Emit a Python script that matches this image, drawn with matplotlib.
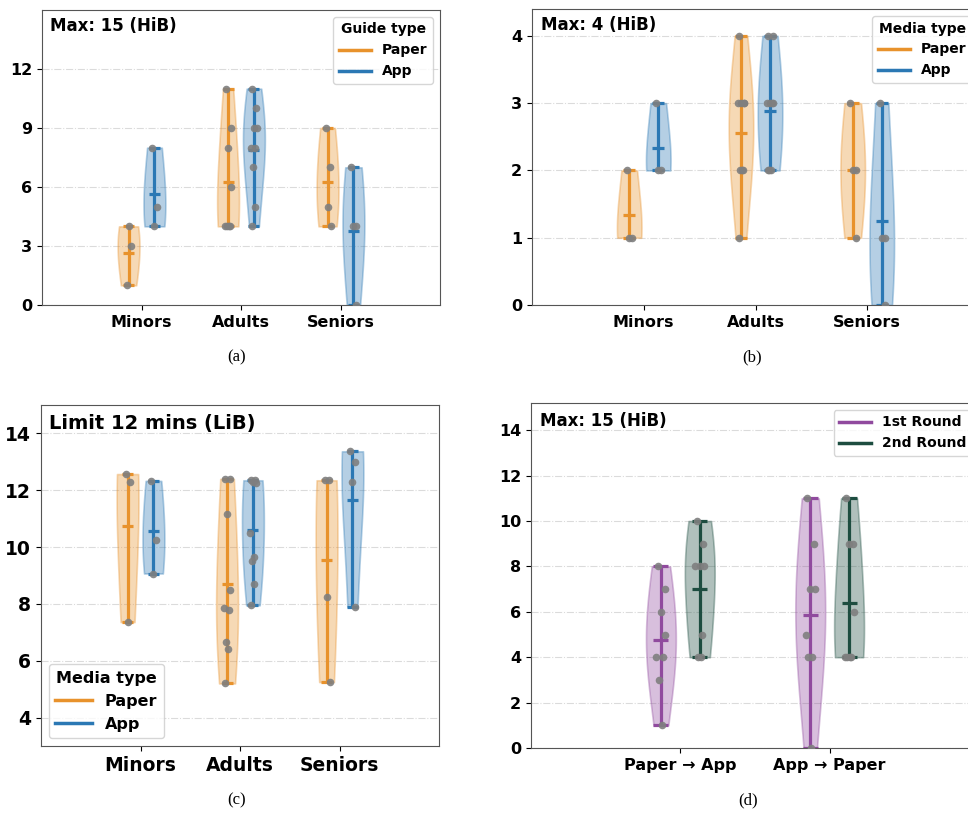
import numpy as np
import matplotlib
matplotlib.use("Agg")
import matplotlib.pyplot as plt
from matplotlib.lines import Line2D

groups = ["Minors", "Adults", "Seniors"]
rounds = ["Paper → App", "App → Paper"]

# (a) guide type, max 15
a_paper = [[1, 3, 4], [11, 9, 8, 6, 4, 4, 4, 4], [9, 7, 5, 4]]
a_app = [[8, 5, 4], [11, 10, 9, 9, 8, 8, 7, 5, 4], [7, 4, 4, 0]]

# (b) media type, max 4
b_paper = [[2, 1, 1], [4, 3, 3, 3, 3, 2, 2, 2, 1], [3, 2, 2, 1]]
b_app = [[3, 2, 2], [4, 4, 3, 3, 3, 3, 2, 2, 2], [3, 1, 1, 0]]

# (c) time in minutes, limit 12
c_paper = [[12.57, 12.3, 7.36],
           [12.4, 12.4, 11.15, 8.5, 7.85, 7.8, 6.65, 6.4, 5.2],
           [12.35, 12.35, 8.25, 5.25]]
c_app = [[12.33, 10.25, 9.07],
         [12.35, 12.35, 12.3, 12.25, 10.5, 9.65, 9.5, 8.7, 7.95],
         [13.37, 13.0, 12.3, 7.9]]

# (d) rounds, max 15
d_first = [[8, 7, 6, 5, 4, 4, 3, 1], [11, 9, 7, 7, 5, 4, 4, 0]]
d_second = [[10, 9, 8, 8, 8, 5, 4, 4], [11, 9, 9, 6, 4, 4, 4, 4]]

ORANGE = "#e8922c"
BLUE = "#2b78b4"
PURPLE = "#904a9e"
GREEN = "#1d4d40"

JITTER = [-0.02, 0.025, 0.0, 0.03, -0.03, 0.015, -0.012, 0.008, -0.022]

W, H = 968, 816
fig = plt.figure(figsize=(W / 100, H / 100), dpi=100)


def px_axes(left, right, top, bottom):
    return fig.add_axes([left / W, 1 - bottom / H, (right - left) / W, (bottom - top) / H])


def violins(ax, data, xs, color, width):
    parts = ax.violinplot(data, positions=xs, widths=width, bw_method=1.0,
                          showmeans=True, showextrema=True)
    for body in parts["bodies"]:
        body.set_facecolor(color)
        body.set_edgecolor(color)
        body.set_alpha(0.35)
        body.set_linewidth(1.2)
    for key in ("cmeans", "cmins", "cmaxes", "cbars"):
        parts[key].set_color(color)
        parts[key].set_linewidth(2.3)
    for x, vals in zip(xs, data):
        jx = [x + JITTER[i % len(JITTER)] for i in range(len(vals))]
        ax.scatter(jx, vals, s=30, color="#7f7f7f", alpha=0.9, zorder=3, linewidths=0)


def style(ax, labels, ylim, yticks, title, fs=11.5, tfs=12, yfs=11.5):
    ax.set_xticks(range(len(labels)))
    ax.set_xticklabels(labels, fontsize=fs, fontweight="bold")
    ax.set_xlim(-1, len(labels))
    ax.set_ylim(*ylim)
    ax.set_yticks(yticks)
    for t in ax.get_yticklabels():
        t.set_fontsize(yfs)
        t.set_fontweight("bold")
    ax.yaxis.grid(True, linestyle="-.", color="lightgray", alpha=0.8)
    ax.set_axisbelow(True)
    for s in ax.spines.values():
        s.set_color("#555555")
    ax.text(0.02, 0.975, title, transform=ax.transAxes, va="top", ha="left",
            fontsize=tfs, fontweight="bold")


def legend(ax, labels, colors, title=None, loc="upper right", fs=10):
    handles = [Line2D([0], [0], color=c, lw=2.5) for c in colors]
    leg = ax.legend(handles, labels, title=title, loc=loc, prop={"weight": "bold", "size": fs},
                    title_fontproperties={"weight": "bold", "size": fs}, handlelength=2.3)
    return leg


x3 = np.arange(3)

ax_a = px_axes(42, 440, 10, 305)
violins(ax_a, a_paper, x3 - 0.13, ORANGE, 0.22)
violins(ax_a, a_app, x3 + 0.13, BLUE, 0.22)
style(ax_a, groups, (0, 15), [0, 3, 6, 9, 12], "Max: 15 (HiB)")
legend(ax_a, ["Paper", "App"], [ORANGE, BLUE], "Guide type")

ax_b = px_axes(532, 979, 9, 305)
violins(ax_b, b_paper, x3 - 0.13, ORANGE, 0.22)
violins(ax_b, b_app, x3 + 0.13, BLUE, 0.22)
style(ax_b, groups, (0, 4.4), [0, 1, 2, 3, 4], "Max: 4 (HiB)")
legend(ax_b, ["Paper", "App"], [ORANGE, BLUE], "Media type")

ax_c = px_axes(41, 439, 405, 746)
violins(ax_c, c_paper, x3 - 0.13, ORANGE, 0.22)
violins(ax_c, c_app, x3 + 0.13, BLUE, 0.22)
style(ax_c, groups, (3, 15), [4, 6, 8, 10, 12, 14], "Limit 12 mins (LiB)",
      fs=13.5, tfs=14, yfs=13.5)
legend(ax_c, ["Paper", "App"], [ORANGE, BLUE], "Media type", loc="lower left", fs=11.5)

x2 = np.arange(2)
ax_d = px_axes(531, 979, 403, 748)
violins(ax_d, d_first, x2 - 0.13, PURPLE, 0.2)
violins(ax_d, d_second, x2 + 0.13, GREEN, 0.2)
style(ax_d, rounds, (0, 15.2), [0, 2, 4, 6, 8, 10, 12, 14], "Max: 15 (HiB)")
legend(ax_d, ["1st Round", "2nd Round"], [PURPLE, GREEN])

for label, (cx, cy) in zip(["(a)", "(b)", "(c)", "(d)"],
                           [(237, 357), (752, 357), (237, 800), (748, 800)]):
    fig.text(cx / W, 1 - cy / H, label, ha="center", va="center",
             fontsize=12, family="Liberation Serif")

fig.savefig("out.png", dpi=100)
